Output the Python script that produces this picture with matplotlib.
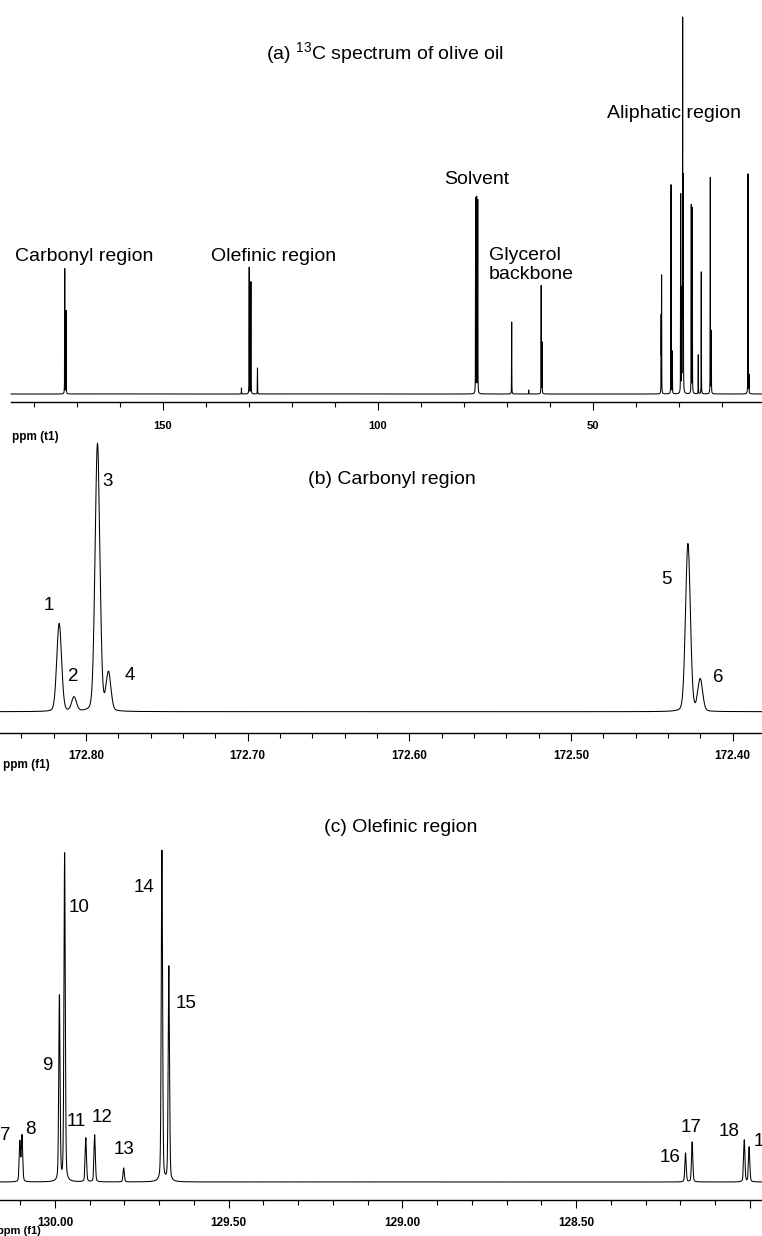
import numpy as np
import matplotlib
matplotlib.use("Agg")
import matplotlib.pyplot as plt
from matplotlib.ticker import MultipleLocator, FuncFormatter

plt.rcParams['font.family'] = ['Liberation Sans', 'DejaVu Sans']
plt.rcParams['mathtext.fontset'] = 'custom'
plt.rcParams['mathtext.rm'] = 'Liberation Sans'

# (a) full 13C spectrum: peak positions (ppm) and heights
full_ppm = [172.80, 172.50, 131.70, 129.93, 129.90, 129.50, 127.98,
            77.25, 77.00, 76.75, 68.86, 64.90, 62.00, 61.80,
            34.00, 34.10, 31.80, 31.50, 29.56, 29.35, 29.20, 29.10, 29.00, 28.95,
            27.10, 26.86, 25.47, 24.77, 22.67, 22.44, 13.90, 13.67]
full_int = [125, 83, 6, 24, 114, 112, 26,
            195, 195, 193, 72, 4, 108, 51,
            116, 75, 209, 42, 198, 90, 88, 366, 58, 200,
            188, 185, 39, 122, 216, 62, 220, 18]
full_notes = ["Carbonyl region", "Olefinic region", "Solvent", "Glycerol\nbackbone", "Aliphatic region"]

# (b) carbonyl region
carb_ppm = [172.8166, 172.8074, 172.7929, 172.7861, 172.4277, 172.4201]
carb_int = [88, 14, 268, 38, 168, 32]
carb_labels = ["1", "2", "3", "4", "5", "6"]

# (c) olefinic region
ole_ppm = [130.1007, 130.0945, 129.987, 129.972, 129.911, 129.8855, 129.802,
           129.692, 129.672, 128.185, 128.166, 128.016, 128.002]
ole_int = [40, 46, 185, 328, 44, 47, 14, 331, 215, 29, 40, 42, 35]
ole_labels = [str(i) for i in range(7, 20)]

W, H = 762, 1236
fig = plt.figure(figsize=(W / 100, H / 100), dpi=100)


def spectrum(lo, hi, centers, heights, fwhm, eta, n):
    x = np.sort(np.concatenate([np.linspace(lo, hi, n), centers]))
    y = np.zeros_like(x)
    for c, h in zip(centers, heights):
        d = (x - c) / (fwhm / 2)
        y += h * (eta / (1 + d ** 2) + (1 - eta) * np.exp(-np.log(2) * d ** 2))
    return x, y


def make_ax(left, top, bottom, xlim, ylim, major, minor, fmt, labsize, pad):
    ax = fig.add_axes([left / W, 1 - bottom / H, (W - left) / W, (bottom - top) / H])
    ax.patch.set_alpha(0)
    for s in ["top", "left", "right"]:
        ax.spines[s].set_visible(False)
    ax.spines["bottom"].set_linewidth(1.0)
    ax.set_yticks([])
    ax.set_xlim(*xlim)
    ax.set_ylim(*ylim)
    ax.xaxis.set_major_locator(MultipleLocator(major))
    ax.xaxis.set_minor_locator(MultipleLocator(minor))
    ax.xaxis.set_major_formatter(FuncFormatter(fmt))
    ax.tick_params(axis="x", which="major", direction="out", length=5.5, width=0.8,
                   pad=pad, labelsize=labsize)
    ax.tick_params(axis="x", which="minor", direction="out", length=3.8, width=0.8)
    return ax


def px_text(x, y, s, size=14, ha="left", **kw):
    fig.text(x / W, 1 - y / H, s, fontsize=size, ha=ha, va="center", **kw)


# ---- (a) ----
xa = (185.3, 10.65)
ax1 = make_ax(11, 2, 402, xa, (-8, 392), 50, 10, lambda v, p: "%d" % v, 8, 8.5)
x, y = spectrum(xa[0], xa[1], full_ppm, full_int, 0.06, 0.5, 60000)
ax1.plot(x, y, color="black", lw=0.75, clip_on=False)
for t in ax1.get_xticklabels():
    t.set_fontweight("bold")
px_text(385, 53, r"(a) $\mathregular{^{13}}$C spectrum of olive oil", ha="center")
note_xy = [(15, 257), (211, 257), (444, 180), (489, 265), (607, 113)]
for (nx, ny), s in zip(note_xy, full_notes):
    px_text(nx, ny, s, linespacing=1.1)
px_text(12, 437, "ppm (t1)", size=8.5, weight="bold")

# ---- (b) ----
xb = (172.8532, 172.3819)
ax2 = make_ax(0, 440, 733, xb, (-21.3, 271.7), 0.1, 0.02, lambda v, p: "%.2f" % v, 8.5, 6.5)
x, y = spectrum(xb[0], xb[1], carb_ppm, carb_int, 0.0035, 0.15, 8000)
ax2.plot(x, y, color="black", lw=0.75, clip_on=False)
for t in ax2.get_xticklabels():
    t.set_fontweight("bold")
px_text(392, 479, "(b) Carbonyl region", ha="center")
carb_xy = [(49, 606), (73, 676), (108, 482), (130, 675), (666, 580), (718, 678)]
for (lx, ly), s in zip(carb_xy, carb_labels):
    px_text(lx, ly, s, size=13.5, ha="center")
px_text(3, 765, "ppm (f1)", size=8.5, weight="bold")

# ---- (c) ----
xc = (130.158, 127.965)
ax3 = make_ax(0, 845, 1200, xc, (-18, 337), 0.5, 0.1,
              lambda v, p: "" if v < 128.2 else "%.2f" % v, 8.5, 6.5)
x, y = spectrum(xc[0], xc[1], ole_ppm, ole_int, 0.0045, 0.3, 8000)
ax3.plot(x, y, color="black", lw=0.75, clip_on=False)
for t in ax3.get_xticklabels():
    t.set_fontweight("bold")
px_text(401, 828, "(c) Olefinic region", ha="center")
ole_xy = [(5, 1135), (30, 1129), (47, 1065), (79, 908), (76, 1122), (102, 1117),
          (124, 1150), (144, 887), (186, 1003), (670, 1157), (691, 1128),
          (729, 1132), (764, 1142)]
for (lx, ly), s in zip(ole_xy, ole_labels):
    px_text(lx, ly, s, size=13.5, ha="center")
px_text(-3, 1231, "ppm (f1)", size=8, weight="bold")

fig.savefig("out.png", dpi=100)
